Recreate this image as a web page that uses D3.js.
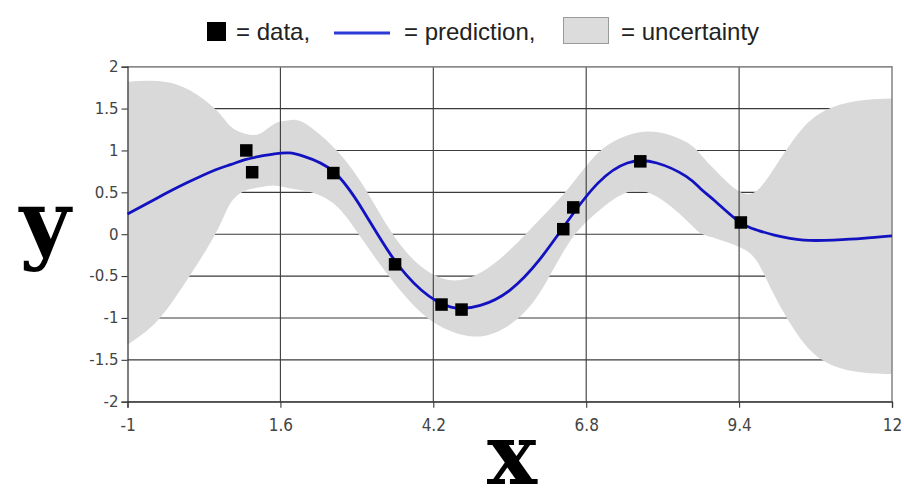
<!DOCTYPE html>
<html>
<head>
<meta charset="utf-8">
<script src="https://cdn.jsdelivr.net/npm/d3@7/dist/d3.min.js"></script>
<style>
  html, body { margin: 0; padding: 0; background: #fff; }
  svg { display: block; }
</style>
</head>
<body>
<svg id="chart" width="904" height="495"></svg>
<script>
// Observations
const dataX = [1.02, 1.12, 2.5, 3.55, 4.34, 4.68, 6.41, 6.58, 7.72, 9.43];
const dataY = [1.0, 0.74, 0.73, -0.36, -0.84, -0.9, 0.06, 0.32, 0.87, 0.14];

// Posterior mean and confidence band, sampled along x
const gridX  = [-1, -0.5, 0, 0.5, 0.75, 1, 1.25, 1.5, 1.75, 2, 2.5, 3, 3.5, 4, 4.5, 5, 5.5, 6, 6.5, 7, 7.5, 8, 8.5, 8.75, 9, 9.4, 9.7, 10, 10.5, 11, 11.5, 12];
const meanY  = [0.24, 0.43, 0.61, 0.77, 0.83, 0.89, 0.93, 0.96, 0.97, 0.93, 0.75, 0.29, -0.27, -0.67, -0.87, -0.85, -0.67, -0.31, 0.17, 0.61, 0.85, 0.85, 0.69, 0.54, 0.39, 0.15, 0.05, -0.01, -0.07, -0.07, -0.05, -0.02];
const upperY = [1.82, 1.83, 1.74, 1.49, 1.29, 1.20, 1.20, 1.32, 1.36, 1.33, 1.04, 0.59, 0.01, -0.39, -0.55, -0.46, -0.19, 0.17, 0.55, 0.97, 1.18, 1.22, 1.10, 0.95, 0.76, 0.51, 0.52, 0.79, 1.28, 1.52, 1.60, 1.62];
const lowerY = [-1.32, -1.04, -0.56, 0.01, 0.37, 0.52, 0.56, 0.58, 0.55, 0.52, 0.37, -0.07, -0.55, -0.94, -1.16, -1.22, -1.08, -0.71, -0.11, 0.27, 0.50, 0.45, 0.17, 0.01, -0.05, -0.15, -0.32, -0.73, -1.30, -1.57, -1.65, -1.67];

// Tick values
const xTicks = [-1, 1.6, 4.2, 6.8, 9.4, 12];
const yTicks = [-2, -1.5, -1, -0.5, 0, 0.5, 1, 1.5, 2];

const svg = d3.select("#chart");
const plot = { left: 127.5, right: 892, top: 66.7, bottom: 401.7 };

const x = d3.scaleLinear().domain([-1, 12]).range([plot.left, plot.right]);
const y = d3.scaleLinear().domain([-2, 2]).range([plot.bottom, plot.top]);

const gridColor = "#3a3a3a";
const fmt = d => String(d);

// Horizontal grid lines (beneath the band)
svg.append("g")
  .selectAll("line")
  .data(yTicks)
  .join("line")
  .attr("x1", plot.left).attr("x2", plot.right)
  .attr("y1", d => y(d)).attr("y2", d => y(d))
  .attr("stroke", gridColor).attr("stroke-width", 1.1);

// Uncertainty band
const band = gridX.map((gx, i) => ({ x: gx, lo: lowerY[i], hi: upperY[i] }));
svg.append("path")
  .datum(band)
  .attr("fill", "#d9d9d9")
  .attr("d", d3.area()
    .x(d => x(d.x))
    .y0(d => y(d.lo))
    .y1(d => y(d.hi))
    .curve(d3.curveNatural));

// Vertical grid lines (drawn over the band)
svg.append("g")
  .selectAll("line")
  .data(xTicks.slice(1, -1))
  .join("line")
  .attr("x1", d => x(d)).attr("x2", d => x(d))
  .attr("y1", plot.top).attr("y2", plot.bottom)
  .attr("stroke", gridColor).attr("stroke-width", 1.1);

// Frame: top and right edges in lighter grey
svg.append("path")
  .attr("d", `M${plot.left},${plot.top}H${plot.right}V${plot.bottom}`)
  .attr("fill", "none").attr("stroke", "#8a8a8a").attr("stroke-width", 1.6);

// Left axis
const yAxis = svg.append("g")
  .attr("transform", `translate(${plot.left},0)`)
  .call(d3.axisLeft(y).tickValues(yTicks).tickSize(6).tickPadding(3).tickFormat(fmt));
yAxis.select(".domain").attr("stroke", gridColor).attr("stroke-width", 1.3);
yAxis.selectAll(".tick line").attr("stroke", gridColor).attr("stroke-width", 1.1);
yAxis.selectAll("text")
  .style("font-family", "'DejaVu Sans', Verdana, sans-serif")
  .style("font-size", "15px").style("fill", "#444");

// Bottom axis
const xAxis = svg.append("g")
  .attr("transform", `translate(0,${plot.bottom})`)
  .call(d3.axisBottom(x).tickValues(xTicks).tickSize(6).tickPadding(11).tickFormat(fmt));
xAxis.select(".domain").attr("stroke", gridColor).attr("stroke-width", 1.3);
xAxis.selectAll(".tick line").attr("stroke", gridColor).attr("stroke-width", 1.1);
xAxis.selectAll("text")
  .style("font-family", "'DejaVu Sans Condensed', 'DejaVu Sans', sans-serif")
  .style("font-stretch", "condensed")
  .style("font-size", "17px").style("fill", "#444");

// Mean prediction
const meanPts = gridX.map((gx, i) => ({ x: gx, y: meanY[i] }));
svg.append("path")
  .datum(meanPts)
  .attr("fill", "none")
  .attr("stroke", "#1212c0")
  .attr("stroke-width", 2.8)
  .attr("d", d3.line().x(d => x(d.x)).y(d => y(d.y)).curve(d3.curveNatural));

// Observations as squares
const sq = 12.5;
svg.append("g")
  .selectAll("rect")
  .data(dataX.map((dx, i) => ({ x: dx, y: dataY[i] })))
  .join("rect")
  .attr("x", d => x(d.x) - sq / 2)
  .attr("y", d => y(d.y) - sq / 2)
  .attr("width", sq).attr("height", sq)
  .attr("fill", "#000");

// Axis titles
svg.append("text")
  .attr("x", 45).attr("y", 252)
  .attr("text-anchor", "middle")
  .attr("font-family", "'DejaVu Serif', serif")
  .attr("font-weight", "bold").attr("font-size", 88)
  .text("y");
svg.append("text")
  .attr("x", 512).attr("y", 484)
  .attr("text-anchor", "middle")
  .attr("font-family", "'DejaVu Serif', serif")
  .attr("font-weight", "bold").attr("font-size", 84)
  .text("x");

// Legend
const legend = svg.append("g")
  .attr("font-family", "'Liberation Sans', Arial, sans-serif")
  .attr("font-size", 24).attr("fill", "#222");
legend.append("rect").attr("x", 207).attr("y", 22).attr("width", 19).attr("height", 19).attr("fill", "#000");
legend.append("text").attr("x", 236).attr("y", 40).text("= data,");
legend.append("line").attr("x1", 334).attr("x2", 390).attr("y1", 33).attr("y2", 33)
  .attr("stroke", "#2a3bd6").attr("stroke-width", 3);
legend.append("text").attr("x", 404).attr("y", 40).text("= prediction,");
legend.append("rect").attr("x", 563.5).attr("y", 17.5).attr("width", 45).attr("height", 26)
  .attr("fill", "#dcdcdc").attr("stroke", "#9a9a9a").attr("stroke-width", 1);
legend.append("text").attr("x", 621).attr("y", 40).text("= uncertainty");
</script>
</body>
</html>
